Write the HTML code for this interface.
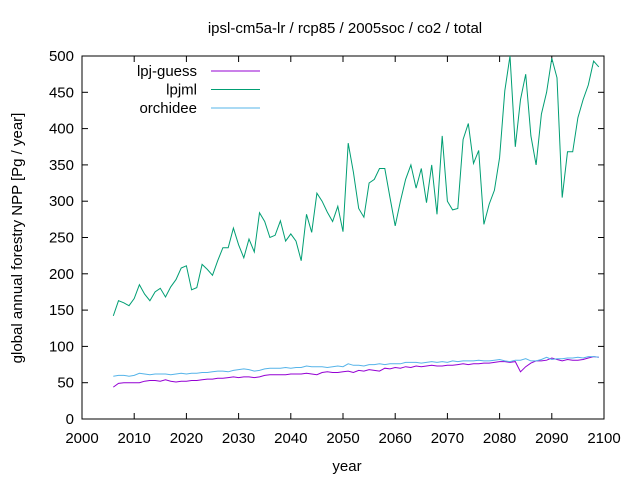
<!DOCTYPE html>
<html><head><meta charset="utf-8"><style>
body{margin:0;background:#fff}
svg{display:block;font-family:"Liberation Sans",sans-serif;font-size:15px}
</style></head><body>
<svg id="chart" width="640" height="480">
<text x="345" y="33" text-anchor="middle">ipsl-cm5a-lr / rcp85 / 2005soc / co2 / total</text>
<text x="347" y="471" text-anchor="middle">year</text>
<text transform="translate(22,238) rotate(-90)" text-anchor="middle">global annual forestry NPP [Pg / year]</text>
<g id="axes"></g>
<g id="series"></g>
<g id="legend"></g>
</svg>
<script>
const years=[];for(let y=2006;y<=2099;y++)years.push(y);
const lpjml=[142,163,160,156,166,185,172,163,175,180,168,182,192,208,211,178,181,213,206,198,218,236,236,263,240,222,248,230,284,272,250,253,273,245,255,245,218,282,257,311,300,285,272,293,258,380,340,290,278,325,330,345,345,305,266,300,330,350,318,345,298,350,282,390,300,288,290,385,407,352,370,268,296,315,360,452,500,375,440,475,390,350,420,450,497,470,305,368,368,415,440,460,493,485];
const lpjguess=[44,49,50,50,50,50,52,53,53,52,54,52,51,52,52,53,53,54,55,55,56,56,57,58,57,58,58,57,58,60,61,61,61,61,62,62,62,63,62,61,64,65,64,64,65,66,64,67,66,68,67,66,70,69,71,70,72,71,73,72,73,74,73,73,74,74,75,76,75,76,76,77,77,78,79,79,78,79,65,72,77,80,80,81,84,82,80,82,81,81,82,84,86,85];
const orchidee=[59,60,60,59,60,63,62,61,62,62,62,61,62,63,62,63,63,64,64,65,66,66,65,67,68,69,68,66,67,69,70,70,70,71,70,71,71,73,72,72,72,71,72,73,72,76,74,74,73,75,75,76,75,76,76,76,78,78,78,77,78,79,78,79,78,80,79,80,80,80,81,80,80,81,82,80,79,81,81,83,80,80,82,85,82,83,83,84,84,85,84,86,86,85];
const xTicks=[2000,2010,2020,2030,2040,2050,2060,2070,2080,2090,2100];
const yTicks=[0,50,100,150,200,250,300,350,400,450,500];
const L=82,R=604,T=56,B=419;
const xs=v=>L+(v-2000)/100*(R-L);
const ys=v=>B-v/500*(B-T);
const NS="http://www.w3.org/2000/svg";
function mk(tag,attrs,parent){const e=document.createElementNS(NS,tag);for(const k in attrs)e.setAttribute(k,attrs[k]);parent.appendChild(e);return e;}
const axes=document.getElementById('axes');
const frame=mk('rect',{x:L,y:T,width:R-L,height:B-T,fill:'none',stroke:'#000','stroke-width':1},axes);


xTicks.forEach(t=>{const x=xs(t);
 mk('line',{x1:x,x2:x,y1:B,y2:B-6,stroke:'#000'},axes);
 mk('line',{x1:x,x2:x,y1:T,y2:T+6,stroke:'#000'},axes);
 const tx=mk('text',{x:x,y:B+24,'text-anchor':'middle'},axes);tx.textContent=t;
 
 
});
yTicks.forEach(t=>{const y=ys(t);
 mk('line',{x1:L,x2:L+6,y1:y,y2:y,stroke:'#000'},axes);
 mk('line',{x1:R,x2:R-6,y1:y,y2:y,stroke:'#000'},axes);
 const tx=mk('text',{x:L-8,y:y+5,'text-anchor':'end'},axes);tx.textContent=t;
 
 
});
const ser=document.getElementById('series');
const defs=[['lpj-guess',lpjguess,'#9400d3'],['lpjml',lpjml,'#009e73'],['orchidee',orchidee,'#56b4e9']];
defs.forEach(([n,d,c])=>{
 const pts=d.map((v,i)=>xs(years[i]).toFixed(1)+','+ys(v).toFixed(1)).join(' ');
 const pl=mk('polyline',{points:pts,fill:'none',stroke:c,'stroke-width':1},ser);
 
 
});
const lg=document.getElementById('legend');
defs.forEach(([n,d,c],i)=>{const y=71+i*18.5;
 const tx=mk('text',{x:197,y:y+5,'text-anchor':'end'},lg);tx.textContent=n;
 
 
 const ln=mk('line',{x1:211,x2:260,y1:y,y2:y,stroke:c},lg);
 
 
});
</script>
</body></html>
